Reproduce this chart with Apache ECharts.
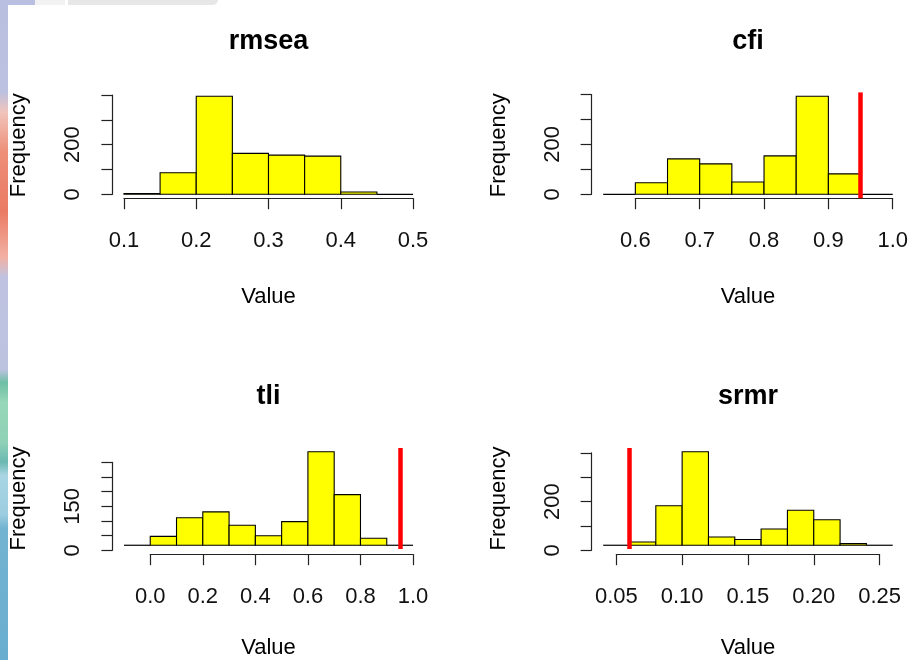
<!DOCTYPE html>
<html><head><meta charset="utf-8">
<script src="https://cdn.jsdelivr.net/npm/echarts@6/dist/echarts.min.js"></script>
<style>html,body{margin:0;padding:0;background:#fff}#c{width:911px;height:660px}</style>
</head><body><div id="c"></div>
<script>
// ---------- data ----------
const panelTitles = ['rmsea', 'cfi', 'tli', 'srmr'];

const rmseaBreaks = [0.10, 0.15, 0.20, 0.25, 0.30, 0.35, 0.40, 0.45, 0.50];
const rmseaCounts = [3, 87, 395, 165, 158, 154, 9, 0];

const cfiBreaks = [0.55, 0.60, 0.65, 0.70, 0.75, 0.80, 0.85, 0.90, 0.95, 1.00];
const cfiCounts = [0, 46, 142, 122, 49, 154, 393, 82, 0];

const tliBreaks = [-0.1, 0.0, 0.1, 0.2, 0.3, 0.4, 0.5, 0.6, 0.7, 0.8, 0.9, 1.0];
const tliCounts = [0, 32, 99, 120, 72, 34, 85, 336, 182, 25, 0];

const srmrBreaks = [0.04, 0.06, 0.08, 0.10, 0.12, 0.14, 0.16, 0.18, 0.20, 0.22, 0.24, 0.26];
const srmrCounts = [0, 14, 171, 404, 36, 25, 70, 151, 110, 7, 0];

const rmseaXTicks = [0.1, 0.2, 0.3, 0.4, 0.5];
const rmseaXLabels = ['0.1', '0.2', '0.3', '0.4', '0.5'];
const cfiXTicks = [0.6, 0.7, 0.8, 0.9, 1.0];
const cfiXLabels = ['0.6', '0.7', '0.8', '0.9', '1.0'];
const tliXTicks = [0.0, 0.2, 0.4, 0.6, 0.8, 1.0];
const tliXLabels = ['0.0', '0.2', '0.4', '0.6', '0.8', '1.0'];
const srmrXTicks = [0.05, 0.10, 0.15, 0.20, 0.25];
const srmrXLabels = ['0.05', '0.10', '0.15', '0.20', '0.25'];

const rmseaYTicks = [0, 100, 200, 300, 400];
const rmseaYLabels = [0, 200];
const cfiYTicks = [0, 100, 200, 300, 400];
const cfiYLabels = [0, 200];
const tliYTicks = [0, 50, 100, 150, 200, 250, 300];
const tliYLabels = [0, 150];
const srmrYTicks = [0, 100, 200, 300, 400];
const srmrYLabels = [0, 200];

const rmseaCutoff = null;
const cfiCutoff = 0.95;
const tliCutoff = 0.95;
const srmrCutoff = 0.06;

const xAxisTitle = 'Value';
const yAxisTitle = 'Frequency';

// ---------- layout ----------
const REGIONS = [
  [112.4, 92.4, 424.6, 198.2],
  [591.6, 92.4, 904.3, 198.2],
  [112.4, 448.0, 424.6, 554.2],
  [591.6, 448.0, 904.3, 554.2]
];
const FONT = 'Liberation Sans, Arial, sans-serif';
const AX = '#222';

const panels = [
  {breaks: rmseaBreaks, counts: rmseaCounts, xt: rmseaXTicks, xl: rmseaXLabels, yt: rmseaYTicks, yl: rmseaYLabels, cut: rmseaCutoff},
  {breaks: cfiBreaks, counts: cfiCounts, xt: cfiXTicks, xl: cfiXLabels, yt: cfiYTicks, yl: cfiYLabels, cut: cfiCutoff},
  {breaks: tliBreaks, counts: tliCounts, xt: tliXTicks, xl: tliXLabels, yt: tliYTicks, yl: tliYLabels, cut: tliCutoff},
  {breaks: srmrBreaks, counts: srmrCounts, xt: srmrXTicks, xl: srmrXLabels, yt: srmrYTicks, yl: srmrYLabels, cut: srmrCutoff}
];

const grid = [], xAxis = [], yAxis = [], series = [], graphic = [];

// decorative background strips
graphic.push({
  type: 'rect', z: -10, shape: {x: 0, y: 0, width: 8, height: 660},
  style: {fill: new echarts.graphic.LinearGradient(0, 0, 0, 1, [
    {offset: 0.00, color: '#b9bfe0'}, {offset: 0.14, color: '#bcc1e0'},
    {offset: 0.17, color: '#f1c4bc'}, {offset: 0.23, color: '#ee8f78'},
    {offset: 0.32, color: '#ea7a63'}, {offset: 0.39, color: '#f2b1a4'},
    {offset: 0.42, color: '#bfc3e1'}, {offset: 0.56, color: '#bcc3df'},
    {offset: 0.58, color: '#6ebfa5'}, {offset: 0.61, color: '#97d7b9'},
    {offset: 0.67, color: '#8fd1b6'}, {offset: 0.70, color: '#6bb8b2'},
    {offset: 0.72, color: '#a9d5e3'}, {offset: 0.78, color: '#9ccde0'},
    {offset: 0.80, color: '#72b3d1'}, {offset: 1.00, color: '#6aaecf'}
  ])}
});
graphic.push({type: 'rect', z: -10, shape: {x: 0, y: 0, width: 35, height: 5}, style: {fill: '#b9bfe0'}});
graphic.push({type: 'rect', z: -10, shape: {x: 35, y: 0, width: 30, height: 5}, style: {fill: '#f2f2f2'}});
graphic.push({type: 'rect', z: -10, shape: {x: 68, y: 0, width: 150, height: 5, r: [0, 0, 6, 0]}, style: {fill: '#e7e7e7'}});

panels.forEach((p, i) => {
  const [l, t, r, b] = REGIONS[i];
  const bmin = Math.min(...p.breaks), bmax = Math.max(...p.breaks);
  const xpad = 0.04 * (bmax - bmin);
  const xmin = bmin - xpad, xmax = bmax + xpad;
  const cmax = Math.max(...p.counts);
  const ymin = -0.04 * cmax, ymax = 1.04 * cmax;
  const kx = (r - l) / (xmax - xmin), ky = (b - t) / (ymax - ymin);
  const px = v => l + (v - xmin) * kx;
  const py = v => b - (v - ymin) * ky;

  // data grid
  const gD = grid.length;
  grid.push({left: l, top: t, width: r - l, height: b - t});
  xAxis.push({
    gridIndex: gD, type: 'value', min: xmin, max: xmax,
    axisLine: {show: false}, axisTick: {show: false}, axisLabel: {show: false}, splitLine: {show: false},
    name: xAxisTitle, nameLocation: 'middle', nameGap: 88,
    nameTextStyle: {fontFamily: FONT, fontSize: 22, color: '#000'}
  });
  yAxis.push({
    gridIndex: gD, type: 'value', min: ymin, max: ymax,
    axisLine: {show: false}, axisTick: {show: false}, axisLabel: {show: false}, splitLine: {show: false},
    name: yAxisTitle, nameLocation: 'middle', nameGap: 82,
    nameTextStyle: {fontFamily: FONT, fontSize: 22, color: '#000'}
  });
  const dataIdx = xAxis.length - 1;

  const bins = p.counts.map((c, j) => [p.breaks[j], p.breaks[j + 1], c]);
  const s = {
    type: 'custom', xAxisIndex: dataIdx, yAxisIndex: dataIdx,
    data: bins, silent: true, clip: false,
    renderItem: (params, api) => {
      const lo = api.value(0), hi = api.value(1), c = api.value(2);
      const p0 = api.coord([lo, 0]), p1 = api.coord([hi, c]);
      if (c === 0) {
        return {type: 'line', shape: {x1: p0[0], y1: p0[1], x2: p1[0], y2: p0[1]},
                style: {stroke: '#000', lineWidth: 1.2}};
      }
      return {type: 'rect',
        shape: {x: p0[0], y: p1[1], width: p1[0] - p0[0], height: p0[1] - p1[1]},
        style: {fill: '#ffff00', stroke: '#000', lineWidth: 1.1}};
    }
  };
  if (p.cut !== null) {
    s.markLine = {
      silent: true, symbol: ['none', 'none'], animation: false,
      label: {show: false},
      lineStyle: {color: '#ff0000', width: 4.5, type: 'solid'},
      emphasis: {disabled: true},
      data: [{xAxis: p.cut}]
    };
  }
  series.push(s);

  // x tick grid
  const x0 = px(p.xt[0]), x1 = px(p.xt[p.xt.length - 1]);
  const gX = grid.length;
  grid.push({left: x0, top: t, width: x1 - x0, height: b - t});
  xAxis.push({
    gridIndex: gX, type: 'value', position: 'bottom',
    min: p.xt[0], max: p.xt[p.xt.length - 1],
    axisLine: {show: true, onZero: false, lineStyle: {color: AX, width: 1.2}},
    axisTick: {show: true, length: 11, customValues: p.xt, lineStyle: {color: AX, width: 1.2}},
    axisLabel: {show: true, customValues: p.xt, margin: 32,
      fontFamily: FONT, fontSize: 22, color: '#111',
      formatter: v => { const k = p.xt.findIndex(q => Math.abs(q - v) < 1e-9); return k >= 0 ? p.xl[k] : ''; }},
    splitLine: {show: false}
  });
  yAxis.push({gridIndex: gX, type: 'value', min: 0, max: 1, show: false});

  // y tick grid
  const y0 = py(p.yt[0]), y1 = py(p.yt[p.yt.length - 1]);
  const gY = grid.length;
  grid.push({left: l, top: y1, width: r - l, height: y0 - y1});
  xAxis.push({gridIndex: gY, type: 'value', min: 0, max: 1, show: false});
  yAxis.push({
    gridIndex: gY, type: 'value', position: 'left',
    min: p.yt[0], max: p.yt[p.yt.length - 1],
    axisLine: {show: true, onZero: false, lineStyle: {color: AX, width: 1.2}},
    axisTick: {show: true, length: 11, customValues: p.yt, lineStyle: {color: AX, width: 1.2}},
    axisLabel: {show: true, customValues: p.yl, margin: 28, rotate: 90,
      fontFamily: FONT, fontSize: 22, color: '#111',
      formatter: v => String(Math.round(v))},
    splitLine: {show: false}
  });

  // title
  graphic.push({
    type: 'text', x: (l + r) / 2, y: t - 51,
    style: {text: panelTitles[i], fill: '#000', align: 'center', verticalAlign: 'middle',
      font: 'bold 27px ' + FONT}
  });
});

const chart = echarts.init(document.getElementById('c'), null, {renderer: 'canvas'});
chart.setOption({
  backgroundColor: '#ffffff',
  animation: false,
  grid, xAxis, yAxis, series, graphic
});
</script>
</body></html>
